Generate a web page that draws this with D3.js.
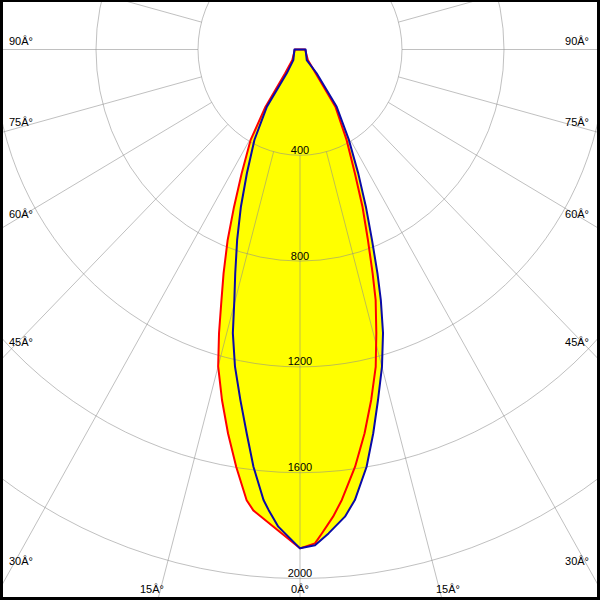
<!DOCTYPE html>
<html>
<head>
<meta charset="utf-8">
<script src="https://cdn.jsdelivr.net/npm/d3@7/dist/d3.min.js"></script>
<style>
  html, body { margin: 0; padding: 0; background: #fff; }
  svg { display: block; }
  text { font-family: "Liberation Sans", Arial, sans-serif; font-size: 11px; fill: #000; }
</style>
</head>
<body>
<svg id="chart" width="600" height="600"></svg>
<script>
// ---- Data ----
// Red curve, C180 half (drawn on the left), gamma angles (deg) and intensities (cd)
const redLeftAngles = [0, 6, 7, 9, 11, 13, 15, 16.5, 18, 19.5, 21.5, 23.5, 26, 29.5, 32, 33, 37, 90];
const redLeftValues = [1886, 1752, 1717, 1598, 1479, 1360, 1240, 1118, 997, 898, 774, 649, 522, 394, 256, 108, 50, 20];
// Red curve, C0 half (drawn on the right)
const redRightAngles = [0, 1.8, 2.7, 4.2, 5.5, 7.8, 9.9, 11.9, 13.9, 15.6, 17.4, 18.6, 20.3, 22.4, 24.7, 28.1, 32.7, 34.3, 38, 90];
const redRightValues = [1886, 1868, 1831, 1771, 1711, 1592, 1473, 1354, 1236, 1113, 992, 893, 768, 643, 515, 388, 257, 109, 50, 20];
// Blue curve, C270 half (left)
const blueLeftAngles = [0, 2.7, 4.05, 4.8, 6.6, 8.2, 10, 12, 13.8, 15.2, 16.7, 18.9, 21.3, 24, 27.6, 31, 30, 33, 90];
const blueLeftValues = [1886, 1806, 1745, 1709, 1588, 1466, 1346, 1226, 1104, 982, 884, 761, 638, 512, 386, 252, 104, 48, 22];
// Blue curve, C90 half (right)
const blueRightAngles = [0, 1.8, 3.5, 5.7, 7.2, 9.4, 11.2, 13, 15, 16.9, 18.5, 19.75, 21.4, 23.5, 26, 29.3, 33.6, 36, 33.5, 90];
const blueRightValues = [1886, 1875, 1833, 1775, 1717, 1599, 1479, 1360, 1242, 1120, 999, 899, 774, 648, 521, 392, 260, 111, 48, 22];

const ringValues = [400, 800, 1200, 1600, 2000, 2400];
const ringLabels = ["400", "800", "1200", "1600", "2000"];
const sideLabels = ["90Â°", "75Â°", "60Â°", "45Â°", "30Â°"];
const bottomLabels = ["15Â°", "0Â°", "15Â°"];

// ---- Layout ----
const W = 600, H = 600;
const cx = 300, cy = 49.5;
const sideLabelY = [45, 126, 218, 346, 565];
const bottomLabelDx = [-148, 0, 148];
const bottomLabelY = 593;

const rX = d3.scaleLinear().domain([0, 400]).range([0, 102]);
const rY = d3.scaleLinear().domain([0, 400]).range([0, 105.8]);

const svg = d3.select("#chart");

// frame
svg.append("rect").attr("x", 0).attr("y", 0).attr("width", W).attr("height", H).attr("fill", "#000");
svg.append("rect").attr("x", 3).attr("y", 2).attr("width", 594).attr("height", 595).attr("fill", "#fff");

svg.append("clipPath").attr("id", "clip")
  .append("rect").attr("x", 3).attr("y", 2).attr("width", 594).attr("height", 595);
const g = svg.append("g").attr("clip-path", "url(#clip)");

function pt(angle, value, side) {
  const a = angle * Math.PI / 180;
  return [cx + side * rX(value) * Math.sin(a), cy + rY(value) * Math.cos(a)];
}
function curvePoints(lA, lV, rA, rV) {
  const left = lA.map((a, i) => pt(a, lV[i], -1)).reverse();
  const right = rA.map((a, i) => pt(a, rV[i], 1));
  return left.concat(right);
}
const redPts = curvePoints(redLeftAngles, redLeftValues, redRightAngles, redRightValues);
const bluePts = curvePoints(blueLeftAngles, blueLeftValues, blueRightAngles, blueRightValues);
const line = d3.line().curve(d3.curveLinear);

// fill (union of both)
g.append("path").attr("d", line(redPts) + "Z").attr("fill", "#ffff00");
g.append("path").attr("d", line(bluePts) + "Z").attr("fill", "#ffff00");

// grid
const grid = g.append("g").attr("stroke", "#8c8c8c").attr("stroke-opacity", 0.55).attr("fill", "none").attr("stroke-width", 1);
grid.selectAll("ellipse").data(ringValues).join("ellipse")
  .attr("cx", cx).attr("cy", cy)
  .attr("rx", d => rX(d)).attr("ry", d => rY(d));
const spokeAngles = d3.range(0, 360, 15);
grid.selectAll("line").data(spokeAngles).join("line")
  .attr("x1", d => cx + rX(400) * Math.sin(d * Math.PI / 180))
  .attr("y1", d => cy + rY(400) * Math.cos(d * Math.PI / 180))
  .attr("x2", d => cx + rX(4000) * Math.sin(d * Math.PI / 180))
  .attr("y2", d => cy + rY(4000) * Math.cos(d * Math.PI / 180));

// curves
g.append("path").attr("d", line(redPts) + "Z").attr("fill", "none")
  .attr("stroke", "#ff0000").attr("stroke-width", 2).attr("stroke-linejoin", "round");
g.append("path").attr("d", line(bluePts) + "Z").attr("fill", "none")
  .attr("stroke", "#0a0aa8").attr("stroke-width", 2).attr("stroke-linejoin", "round");

// ring labels
g.selectAll("text.ring").data(ringLabels).join("text").attr("class", "ring")
  .attr("x", cx).attr("y", d => cy + rY(+d) - 1.5)
  .attr("text-anchor", "middle").text(d => d);

// side labels
g.selectAll("text.sl").data(sideLabels).join("text").attr("class", "sl")
  .attr("x", 9).attr("y", (d, i) => sideLabelY[i]).text(d => d);
g.selectAll("text.sr").data(sideLabels).join("text").attr("class", "sr")
  .attr("x", 589).attr("y", (d, i) => sideLabelY[i]).attr("text-anchor", "end").text(d => d);
// bottom labels
g.selectAll("text.b").data(bottomLabels).join("text").attr("class", "b")
  .attr("x", (d, i) => cx + bottomLabelDx[i]).attr("y", bottomLabelY)
  .attr("text-anchor", "middle").text(d => d);
</script>
</body>
</html>
